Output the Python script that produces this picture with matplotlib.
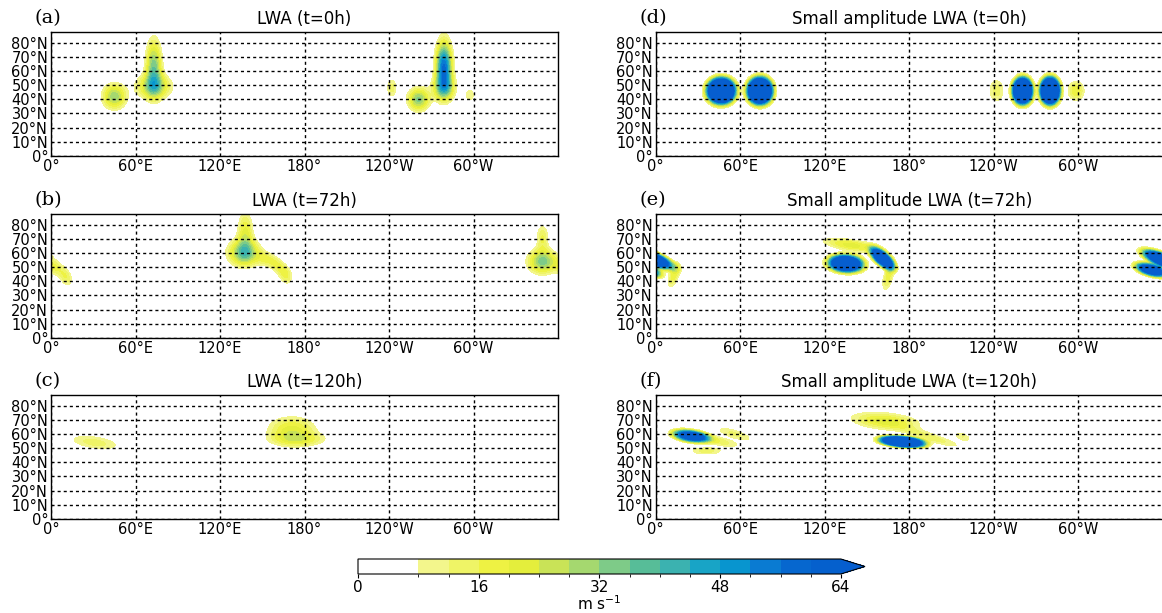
import numpy as np
import matplotlib
matplotlib.use("Agg")
import matplotlib.pyplot as plt
from matplotlib.colors import ListedColormap, BoundaryNorm

# ---------------- text / ticks ----------------
panel_labels = ["(a)", "(b)", "(c)", "(d)", "(e)", "(f)"]
titles = ["LWA (t=0h)", "LWA (t=72h)", "LWA (t=120h)",
          "Small amplitude LWA (t=0h)", "Small amplitude LWA (t=72h)",
          "Small amplitude LWA (t=120h)"]
lon_ticks = [0, 60, 120, 180, 240, 300]
lon_tick_labels = ["0°", "60°E", "120°E", "180°", "120°W", "60°W"]
lat_ticks = [0, 10, 20, 30, 40, 50, 60, 70, 80]
lat_tick_labels = ["0°", "10°N", "20°N", "30°N", "40°N", "50°N", "60°N", "70°N", "80°N"]

# ---------------- colour scale (m s-1) ----------------
levels = [0, 8, 12, 16, 20, 24, 28, 32, 36, 40, 44, 48, 52, 56, 60, 64]
level_colors = ["#ffffff", "#f3f68c", "#eff466", "#eef243", "#e4ee3c",
                "#c9e357", "#a5d86f", "#7ecb88", "#57bd98", "#3bb2b0",
                "#18a4c6", "#0895cf", "#0a7bd2", "#0667cf", "#0560cd"]
over_color = "#065ecf"
cbar_ticks = [0, 16, 32, 48, 64]
cbar_label = "m s$^{-1}$"

# ---------------- LWA features read from the maps ----------------
# each: (lon centre, lat centre, peak m/s, lon scale, lat scale, tilt deg, flatness)
blobs_a = [(45, 42, 31, 5.7, 6.0, 0, 1.0),
           (73, 49, 28, 8.5, 6.0, 0, 1.0),
           (73, 63, 34, 3.8, 13.0, 0, 1.0),
           (242, 48, 14, 2.7, 5.0, 0, 1.0),
           (261, 40, 33, 5.2, 5.5, 0, 1.0),
           (279, 48, 26, 5.5, 6.0, 0, 1.0),
           (279, 63, 56, 3.8, 12.0, 0, 1.0),
           (297.5, 43, 11, 3.0, 4.0, 0, 1.0)]
blobs_b = [(137, 60, 36, 7.5, 6.3, 0, 1.0),
           (138, 75, 20, 3.8, 10.0, 0, 1.0),
           (153, 55.5, 14, 5.5, 3.4, -20, 1.0),
           (162, 50, 14, 5.5, 3.4, -45, 1.0),
           (167, 43.5, 13, 4.5, 3.2, -75, 1.0),
           (349, 54, 34, 7.0, 5.8, 0, 1.0),
           (349, 71, 16, 3.0, 6.5, 0, 1.0),
           (4, 49, 14, 5.5, 3.4, -35, 1.0),
           (11, 42, 13, 4.5, 3.0, -70, 1.0)]
blobs_c = [(31, 54, 14, 14.0, 3.6, -8, 1.0),
           (171, 62.5, 22, 12.0, 6.8, 0, 1.0),
           (177, 56, 13, 14.0, 3.2, 0, 1.0)]
blobs_d = [(46.5, 46, 120, 8.0, 7.3, 0, 1.6),
           (74, 46, 120, 7.1, 7.6, 0, 1.6),
           (242, 46, 14, 4.3, 6.6, 0, 1.0),
           (260.5, 46, 120, 5.6, 7.5, 0, 1.6),
           (280, 46, 120, 5.6, 7.7, 0, 1.6),
           (298.5, 46, 20, 4.2, 5.0, 0, 1.0)]
blobs_e = [(135, 52.5, 100, 9.6, 4.7, -4, 1.5),
           (161, 56, 90, 8.0, 3.5, -40, 1.5),
           (139, 65.5, 22, 14.0, 2.8, -8, 1.0),
           (165, 43, 18, 7.0, 2.5, 76, 1.0),
           (359, 55.5, 90, 11.0, 3.5, -22, 1.5),
           (13, 44, 18, 6.5, 2.5, 70, 1.0),
           (352, 48, 80, 9.0, 3.2, -15, 1.5)]
blobs_f = [(25, 58.5, 70, 10.0, 3.2, -8, 1.5),
           (42, 55.5, 16, 13.0, 2.2, -12, 1.0),
           (36, 48, 14, 9.0, 2.0, 0, 1.0),
           (56, 60, 13, 10.6, 2.5, -17, 1.0),
           (163, 69, 22, 17.0, 4.2, -5, 1.0),
           (197, 57, 14, 16.0, 2.3, -17, 1.0),
           (175, 54.5, 90, 14.0, 3.2, -5, 2.0),
           (218, 58, 12, 5.0, 2.2, -20, 1.0)]
panel_blobs = [blobs_a, blobs_b, blobs_c, blobs_d, blobs_e, blobs_f]

lon = np.arange(0, 360.01, 0.5)
lat = np.arange(0, 90.01, 0.5)


def lwa_field(blobs):
    LON, LAT = np.meshgrid(lon, lat)
    f = np.zeros_like(LON)
    for lon0, lat0, amp, sx, sy, ang, p in blobs:
        dx = (LON - lon0 + 180.0) % 360.0 - 180.0
        dy = LAT - lat0
        t = np.deg2rad(ang)
        u = dx * np.cos(t) + dy * np.sin(t)
        v = -dx * np.sin(t) + dy * np.cos(t)
        r2 = (u / sx) ** 2 + (v / sy) ** 2
        f += amp * np.exp(-0.5 * r2 ** p)
    return f


cmap = ListedColormap(level_colors)
cmap.set_over(over_color)
norm = BoundaryNorm(levels, cmap.N)

W, H = 1162, 613
fig = plt.figure(figsize=(W / 100, H / 100), dpi=100)

col_left = [51, 655.7]
row_top = [32, 214, 395]
ax_w, ax_h = 507, 124

cs = None
for i in range(6):
    col, row = divmod(i, 3)
    x0 = col_left[col]
    y0 = row_top[row]
    ax = fig.add_axes([x0 / W, 1 - (y0 + ax_h) / H, ax_w / W, ax_h / H])
    field = lwa_field(panel_blobs[i])
    cs = ax.contourf(lon, lat, field, levels=levels, cmap=cmap, norm=norm,
                     extend="max", zorder=1)
    ax.set_xlim(0, 360)
    ax.set_ylim(0, 87.5)
    ax.set_xticks(lon_ticks)
    ax.set_xticklabels(lon_tick_labels)
    ax.set_yticks(lat_ticks)
    ax.set_yticklabels(lat_tick_labels)
    ax.tick_params(length=0, pad=2, labelsize=10.5)
    ax.set_axisbelow(False)
    ax.grid(True, color="black", linestyle=(0, (2.2, 2.2)), linewidth=1.0)
    for s in ax.spines.values():
        s.set_linewidth(1.0)
    ax.set_title(titles[i], fontsize=12, pad=6)
    ax.text(-16 / ax_w, 1 + 14 / ax_h, panel_labels[i], transform=ax.transAxes,
            ha="left", va="center", fontsize=14, family="DejaVu Serif")

cax = fig.add_axes([358 / W, 1 - 574 / H, 507 / W, 15 / H])
cb = fig.colorbar(cs, cax=cax, orientation="horizontal", ticks=cbar_ticks,
                  extend="max", spacing="proportional")
cb.ax.tick_params(labelsize=11, length=3, pad=1.5)
cb.set_label(cbar_label, fontsize=11, labelpad=-1)

fig.savefig("out.png", dpi=100)
